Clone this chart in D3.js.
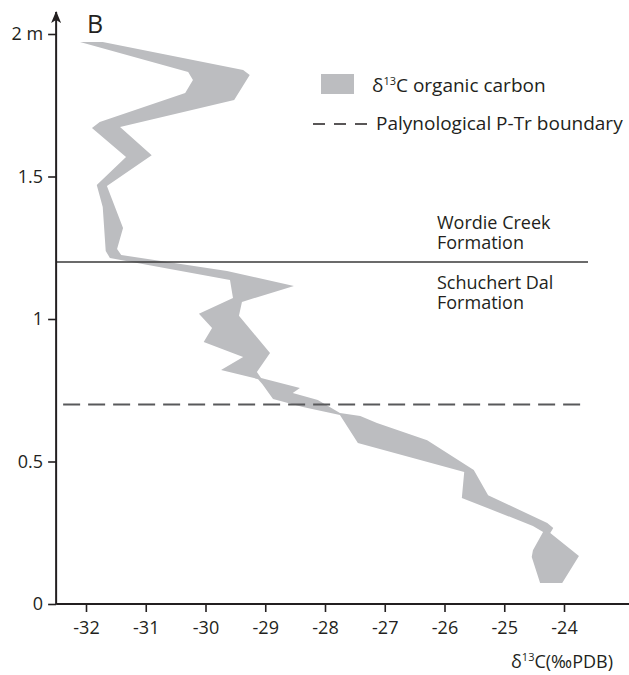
<!DOCTYPE html>
<html lang="en">
<head>
    <meta charset="UTF-8">
    <title>d13C organic carbon profile</title>
    <script src="https://d3js.org/d3.v7.min.js"></script>
    <style>
        body { margin: 0; background: #fff; }
        svg text { font-family: "Open Sans", Lato, sans-serif; fill: #231f20; }
        .band { fill: #bcbdc0; }
        .axis path { display: none; }
        .axis line { stroke: #231f20; stroke-width: 1.6; }
        .axis text { font-size: 18px; }
    </style>
</head>
<body>
    <svg width="629" height="675"></svg>
    <script>
        // right / upper edge of the band, top to bottom: [d13C, depth m]
        const edgeRight = [
            [-32.10, 1.972], [-31.72, 1.972], [-29.37, 1.874], [-29.26, 1.856], [-29.52, 1.768],
            [-31.43, 1.674], [-30.90, 1.575], [-31.65, 1.467], [-31.38, 1.319], [-31.48, 1.246],
            [-31.41, 1.225], [-29.64, 1.168], [-28.52, 1.116], [-29.39, 1.060], [-29.44, 1.011],
            [-28.92, 0.881], [-29.14, 0.814], [-29.07, 0.793], [-28.42, 0.758], [-28.54, 0.740],
            [-28.12, 0.716], [-27.75, 0.670], [-27.41, 0.660], [-27.13, 0.635], [-26.29, 0.575],
            [-25.51, 0.470], [-25.27, 0.382], [-24.28, 0.284], [-24.18, 0.267], [-24.23, 0.249],
            [-23.75, 0.168], [-24.03, 0.074]
        ];
        // left / lower edge of the band, top to bottom
        const edgeLeft = [
            [-32.10, 1.972], [-30.29, 1.867], [-30.21, 1.839], [-30.34, 1.793], [-31.77, 1.691],
            [-31.90, 1.670], [-31.33, 1.568], [-31.82, 1.470], [-31.72, 1.393], [-31.67, 1.239],
            [-31.60, 1.214], [-29.59, 1.137], [-29.54, 1.074], [-30.11, 1.018], [-29.89, 0.968],
            [-30.03, 0.919], [-29.37, 0.867], [-29.74, 0.821], [-29.12, 0.789], [-29.05, 0.772],
            [-28.87, 0.719], [-28.37, 0.691], [-27.75, 0.663], [-27.45, 0.565], [-25.67, 0.463],
            [-25.71, 0.372], [-24.52, 0.274], [-24.35, 0.253], [-24.52, 0.189], [-24.54, 0.165],
            [-24.40, 0.074]
        ];
        const xTicks = [-32, -31, -30, -29, -28, -27, -26, -25, -24];
        const yTicks = [0, 0.5, 1, 1.5, 2];
        const formationBoundary = 1.2;
        const palynoBoundary = 0.7;
        const formationLabels = [["Wordie Creek", "Formation"], ["Schuchert Dal", "Formation"]];

        const svg = d3.select("svg");
        const x = d3.scaleLinear().domain([-32, -24]).range([86, 564]);
        const y = d3.scaleLinear().domain([0, 2]).range([604, 34]);
        const x0 = x(-32.5), xEnd = x(-22.55);

        // band
        const outline = edgeRight.concat(edgeLeft.slice(1).reverse());
        svg.append("path")
           .attr("class", "band")
           .attr("d", d3.line().x(d => x(d[0])).y(d => y(d[1]))(outline) + "Z");

        // boundaries
        svg.append("line")
           .attr("x1", x0).attr("x2", 588)
           .attr("y1", y(formationBoundary)).attr("y2", y(formationBoundary))
           .attr("stroke", "#3a3a3a").attr("stroke-width", 1.6);
        svg.append("line")
           .attr("x1", x0 + 7).attr("x2", 585)
           .attr("y1", y(palynoBoundary)).attr("y2", y(palynoBoundary))
           .attr("stroke", "#58595b").attr("stroke-width", 2.2)
           .attr("stroke-dasharray", "17,8");

        // axes
        svg.append("defs").append("marker")
           .attr("id", "arrow").attr("viewBox", "0 0 12 10")
           .attr("refX", 11).attr("refY", 5)
           .attr("markerWidth", 12).attr("markerHeight", 10)
           .attr("markerUnits", "userSpaceOnUse")
           .attr("orient", "auto")
           .append("path").attr("d", "M0,0 L12,5 L0,10 L3,5 Z").attr("fill", "#231f20");

        svg.append("g").attr("class", "axis")
           .attr("transform", `translate(${x0},0)`)
           .call(d3.axisLeft(y).tickValues(yTicks).tickSize(8).tickPadding(5)
                 .tickFormat(d => d === 2 ? "2 m" : d3.format("")(d)));
        svg.append("g").attr("class", "axis")
           .attr("transform", `translate(0,${y(0)})`)
           .call(d3.axisBottom(x).tickValues(xTicks).tickSize(8).tickPadding(9)
                 .tickFormat(d => "-" + Math.abs(d)));

        svg.append("line")
           .attr("x1", x0).attr("x2", x0).attr("y1", y(0)).attr("y2", 12)
           .attr("stroke", "#231f20").attr("stroke-width", 2)
           .attr("marker-end", "url(#arrow)");
        svg.append("line")
           .attr("x1", x0).attr("x2", xEnd).attr("y1", y(0)).attr("y2", y(0))
           .attr("stroke", "#231f20").attr("stroke-width", 2)
           .attr("marker-end", "url(#arrow)");

        // axis title
        const xt = svg.append("text").attr("x", 613).attr("y", 668)
           .attr("text-anchor", "end").attr("font-size", 18);
        xt.append("tspan").text("δ");
        xt.append("tspan").attr("font-size", 11).attr("dy", -7).text("13");
        xt.append("tspan").attr("dy", 7).text("C(‰PDB)");

        svg.append("text").attr("x", 87).attr("y", 33)
           .attr("font-size", 25).text("B");

        // legend
        svg.append("rect").attr("class", "band")
           .attr("x", 321).attr("y", 74).attr("width", 33).attr("height", 20);
        const lt = svg.append("text").attr("x", 372).attr("y", 92).attr("font-size", 19);
        lt.append("tspan").text("δ");
        lt.append("tspan").attr("font-size", 11).attr("dy", -7).text("13");
        lt.append("tspan").attr("dy", 7).text("C organic carbon");
        svg.append("line")
           .attr("x1", 313).attr("x2", 370).attr("y1", 124).attr("y2", 124)
           .attr("stroke", "#231f20").attr("stroke-width", 1.4)
           .attr("stroke-dasharray", "12,9");
        svg.append("text").attr("x", 376).attr("y", 130).attr("font-size", 19)
           .text("Palynological P-Tr boundary");

        // formation labels, each a two-line text
        const ft = svg.selectAll(".flabel").data(formationLabels).enter().append("text")
           .attr("class", "flabel")
           .attr("x", 437).attr("y", (d, i) => i === 0 ? 229 : 289).attr("font-size", 18);
        ft.append("tspan").text(d => d[0]);
        ft.append("tspan").attr("x", 437).attr("dy", 20).text(d => d[1]);
    </script>
</body>
</html>
